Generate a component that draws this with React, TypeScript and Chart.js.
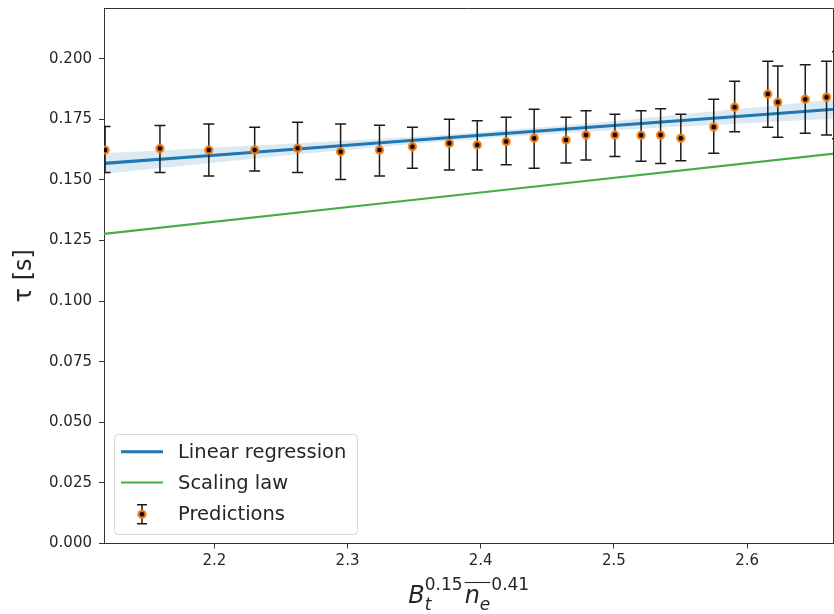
import React, { useEffect, useRef } from 'react';
import { Chart, registerables } from 'chart.js';

Chart.register(...registerables);

// ---- data ----
const predX = [2.118, 2.1592, 2.1959, 2.2303, 2.2625, 2.2948, 2.324, 2.3487, 2.3764, 2.3974, 2.4191, 2.4401, 2.464, 2.479, 2.5007, 2.5204, 2.535, 2.5502, 2.5749, 2.5906, 2.6155, 2.623, 2.6436, 2.6596, 2.6678];
const predY = [0.1623, 0.1629, 0.1623, 0.1623, 0.163, 0.1616, 0.1623, 0.1637, 0.1651, 0.1644, 0.1658, 0.1672, 0.1665, 0.1685, 0.1685, 0.1684, 0.1685, 0.1672, 0.1718, 0.18, 0.1854, 0.182, 0.1833, 0.1841, 0.1823];
const predHi = [0.172, 0.1724, 0.1731, 0.1717, 0.1738, 0.1731, 0.1725, 0.1717, 0.175, 0.1744, 0.1758, 0.1791, 0.1758, 0.1785, 0.1771, 0.1785, 0.1793, 0.1771, 0.1833, 0.1907, 0.1989, 0.197, 0.1975, 0.1989, 0.2029];
const predLo = [0.153, 0.153, 0.1516, 0.1537, 0.153, 0.1502, 0.1516, 0.1548, 0.1541, 0.1541, 0.1562, 0.1548, 0.157, 0.1582, 0.1596, 0.1577, 0.1568, 0.1579, 0.161, 0.1699, 0.1717, 0.1676, 0.1692, 0.1685, 0.167];

const regX = [2.1, 2.2, 2.3, 2.4, 2.5, 2.6, 2.7];
const regY = [0.1561, 0.1602, 0.1643, 0.1684, 0.1724, 0.1765, 0.1806];
const bandUpper = [0.1606, 0.1633, 0.1662, 0.1698, 0.1743, 0.1796, 0.1851];
const bandLower = [0.1516, 0.1571, 0.1624, 0.167, 0.1705, 0.1734, 0.1761];

const lawX = [2.1, 2.4, 2.7];
const lawY = [0.1267, 0.1448, 0.1629];

const xTicks = [2.2, 2.3, 2.4, 2.5, 2.6];
const yTicks = [0, 0.025, 0.05, 0.075, 0.1, 0.125, 0.15, 0.175, 0.2];

const X_MIN = 2.1172;
const X_MAX = 2.6648;
const Y_MIN = 0;
const Y_MAX = 0.2209;

const FONT = '"DejaVu Sans", sans-serif';
const TEXT = '#262626';
const AXIS = '#333333';
const BLUE = '#1f77b4';
const GREEN = '#45ad45';
const ORANGE = 'rgba(255,127,14,0.85)';
const ERR = '#1a1a1a';

const pts = (xs: number[], ys: number[]) => xs.map((x, i) => ({ x, y: ys[i] }));

const errorBarPlugin = {
  id: 'errbars',
  beforeDatasetDraw(chart: any, args: any) {
    if (args.index !== 0) return;
    const { ctx, chartArea, scales } = chart;
    const xs = scales.x;
    const ys = scales.y;
    ctx.save();
    ctx.beginPath();
    ctx.rect(chartArea.left, chartArea.top, chart.width, chartArea.bottom - chartArea.top);
    ctx.clip();
    ctx.strokeStyle = ERR;
    ctx.lineWidth = 1.5;
    const cap = 5.5;
    predX.forEach((xv, i) => {
      const px = xs.getPixelForValue(xv);
      const t = ys.getPixelForValue(predHi[i]);
      const b = ys.getPixelForValue(predLo[i]);
      ctx.beginPath();
      ctx.moveTo(px, t);
      ctx.lineTo(px, b);
      ctx.moveTo(px - cap, t);
      ctx.lineTo(px + cap, t);
      ctx.moveTo(px - cap, b);
      ctx.lineTo(px + cap, b);
      ctx.stroke();
    });
    ctx.restore();
  },
};

const decorPlugin = {
  id: 'decor',
  afterDraw(chart: any) {
    const { ctx, chartArea } = chart;
    ctx.save();
    // top + right spines
    ctx.strokeStyle = AXIS;
    ctx.lineWidth = 1;
    ctx.beginPath();
    ctx.moveTo(chartArea.left, chartArea.top + 0.5);
    ctx.lineTo(chartArea.right, chartArea.top + 0.5);
    ctx.lineTo(chartArea.right, chartArea.bottom);
    ctx.stroke();

    // legend
    const lx = 114, ly = 434, lw = 243, lh = 100;
    ctx.beginPath();
    (ctx as any).roundRect(lx + 0.5, ly + 0.5, lw, lh, 4);
    ctx.fillStyle = 'rgba(255,255,255,0.8)';
    ctx.fill();
    ctx.strokeStyle = '#d6d6d6';
    ctx.stroke();

    const rows = [451.7, 482.5, 514.3];
    ctx.lineCap = 'butt';
    ctx.strokeStyle = BLUE;
    ctx.lineWidth = 3;
    ctx.beginPath();
    ctx.moveTo(121, rows[0]);
    ctx.lineTo(163, rows[0]);
    ctx.stroke();
    ctx.strokeStyle = GREEN;
    ctx.lineWidth = 2.2;
    ctx.beginPath();
    ctx.moveTo(121, rows[1]);
    ctx.lineTo(163, rows[1]);
    ctx.stroke();
    // errorbar marker
    const mx = 142, my = rows[2];
    ctx.strokeStyle = ERR;
    ctx.lineWidth = 1.5;
    ctx.beginPath();
    ctx.moveTo(mx, my - 9.5);
    ctx.lineTo(mx, my + 9.5);
    ctx.moveTo(mx - 5, my - 9.5);
    ctx.lineTo(mx + 5, my - 9.5);
    ctx.moveTo(mx - 5, my + 9.5);
    ctx.lineTo(mx + 5, my + 9.5);
    ctx.stroke();
    ctx.beginPath();
    ctx.arc(mx, my, 3.5, 0, Math.PI * 2);
    ctx.fillStyle = '#000';
    ctx.fill();
    ctx.strokeStyle = ORANGE;
    ctx.lineWidth = 2.5;
    ctx.stroke();

    ctx.fillStyle = TEXT;
    ctx.font = `19.5px ${FONT}`;
    ctx.textBaseline = 'middle';
    ctx.textAlign = 'left';
    ctx.fillText('Linear regression', 178, rows[0] + 1);
    ctx.fillText('Scaling law', 178, rows[1] + 1);
    ctx.fillText('Predictions', 178, rows[2] + 1);

    // x-axis title (math text)
    const mainF = `italic 24px ${FONT}`;
    const scriptI = `italic 17px ${FONT}`;
    const scriptR = `17px ${FONT}`;
    const base = 603;
    const subB = 609.5;
    const supB = 589.5;
    ctx.textBaseline = 'alphabetic';
    const w = (f: string, s: string) => { ctx.font = f; return ctx.measureText(s).width; };
    const wB = w(mainF, 'B');
    const wt = w(scriptI, 't');
    const w15 = w(scriptR, '0.15');
    const wn = w(mainF, 'n');
    const we = w(scriptI, 'e');
    const w41 = w(scriptR, '0.41');
    const total = wB + Math.max(wt, w15) + 2 + wn + we + 1 + w41;
    const cx = (chartArea.left + chartArea.right) / 2;
    let x = cx - total / 2;
    ctx.font = mainF; ctx.fillText('B', x, base);
    x += wB;
    ctx.font = scriptI; ctx.fillText('t', x, subB);
    ctx.font = scriptR; ctx.fillText('0.15', x, supB);
    x += Math.max(wt, w15) + 2;
    const ovStart = x;
    ctx.font = mainF; ctx.fillText('n', x, base);
    x += wn;
    ctx.font = scriptI; ctx.fillText('e', x, subB);
    x += we;
    const ovEnd = x;
    ctx.strokeStyle = TEXT;
    ctx.lineWidth = 1.1;
    ctx.beginPath();
    ctx.moveTo(ovStart, 582.5);
    ctx.lineTo(ovEnd, 582.5);
    ctx.stroke();
    x += 1;
    ctx.font = scriptR; ctx.fillText('0.41', x, supB);
    ctx.restore();
  },
};

export default function App() {
  const ref = useRef<HTMLCanvasElement | null>(null);
  useEffect(() => {
    if (!ref.current) return;
    const chart = new Chart(ref.current, {
      type: 'line',
      data: {
        datasets: [
          {
            label: 'Predictions',
            data: pts(predX, predY),
            showLine: false,
            pointRadius: 3.5,
            pointBorderWidth: 2.5,
            pointBackgroundColor: '#000',
            pointBorderColor: ORANGE,
            order: 0,
            clip: { left: 0, top: 0, bottom: 0, right: false } as any,
          },
          {
            label: 'Linear regression',
            data: pts(regX, regY),
            borderColor: BLUE,
            borderWidth: 3,
            pointRadius: 0,
            tension: 0,
            fill: false,
            order: 1,
          },
          {
            label: 'Scaling law',
            data: pts(lawX, lawY),
            borderColor: GREEN,
            borderWidth: 2.2,
            pointRadius: 0,
            tension: 0,
            fill: false,
            order: 2,
          },
          {
            label: 'band upper',
            data: pts(regX, bandUpper),
            borderWidth: 0,
            borderColor: 'rgba(0,0,0,0)',
            backgroundColor: 'rgba(31,119,180,0.16)',
            pointRadius: 0,
            tension: 0.4,
            fill: '+1',
            order: 3,
          },
          {
            label: 'band lower',
            data: pts(regX, bandLower),
            borderWidth: 0,
            borderColor: 'rgba(0,0,0,0)',
            pointRadius: 0,
            tension: 0.4,
            fill: false,
            order: 4,
          },
        ],
      },
      options: {
        responsive: false,
        animation: false,
        events: [],
        layout: { padding: { left: 0, right: 5, top: 8, bottom: 0 } },
        plugins: { legend: { display: false }, tooltip: { enabled: false } },
        scales: {
          x: {
            type: 'linear',
            min: X_MIN,
            max: X_MAX,
            afterBuildTicks: (s: any) => { s.ticks = xTicks.map((v) => ({ value: v })); },
            afterFit: (s: any) => { s.height = 70.5; s.paddingLeft = 0; s.paddingRight = 0; },
            grid: { display: true, drawOnChartArea: false, drawTicks: true, tickLength: 5, color: AXIS, lineWidth: 1 },
            border: { display: true, color: AXIS, width: 1 },
            ticks: {
              color: TEXT,
              font: { family: FONT, size: 15 },
              padding: 4,
              maxRotation: 0,
              autoSkip: false,
              callback: (v: any) => Number(v).toFixed(1),
            },
          },
          y: {
            type: 'linear',
            min: Y_MIN,
            max: Y_MAX,
            afterBuildTicks: (s: any) => { s.ticks = yTicks.map((v) => ({ value: v })); },
            afterFit: (s: any) => { s.width = 104; s.paddingTop = 0; s.paddingBottom = 0; },
            grid: { display: true, drawOnChartArea: false, drawTicks: true, tickLength: 5, color: AXIS, lineWidth: 1 },
            border: { display: true, color: AXIS, width: 1 },
            title: {
              display: true,
              text: 'τ [s]',
              color: TEXT,
              font: { family: FONT, size: 24 },
              padding: { top: 10, bottom: 0 },
            },
            ticks: {
              color: TEXT,
              font: { family: FONT, size: 15 },
              padding: 7,
              autoSkip: false,
              callback: (v: any) => Number(v).toFixed(3),
            },
          },
        },
      },
      plugins: [errorBarPlugin, decorPlugin],
    } as any);
    return () => chart.destroy();
  }, []);

  return (
    <div style={{ position: 'fixed', left: 0, top: 0, width: 834, height: 614, overflow: 'hidden', background: '#fff' }}>
      <canvas ref={ref} width={840} height={614} style={{ width: 840, height: 614, display: 'block' }} />
    </div>
  );
}
